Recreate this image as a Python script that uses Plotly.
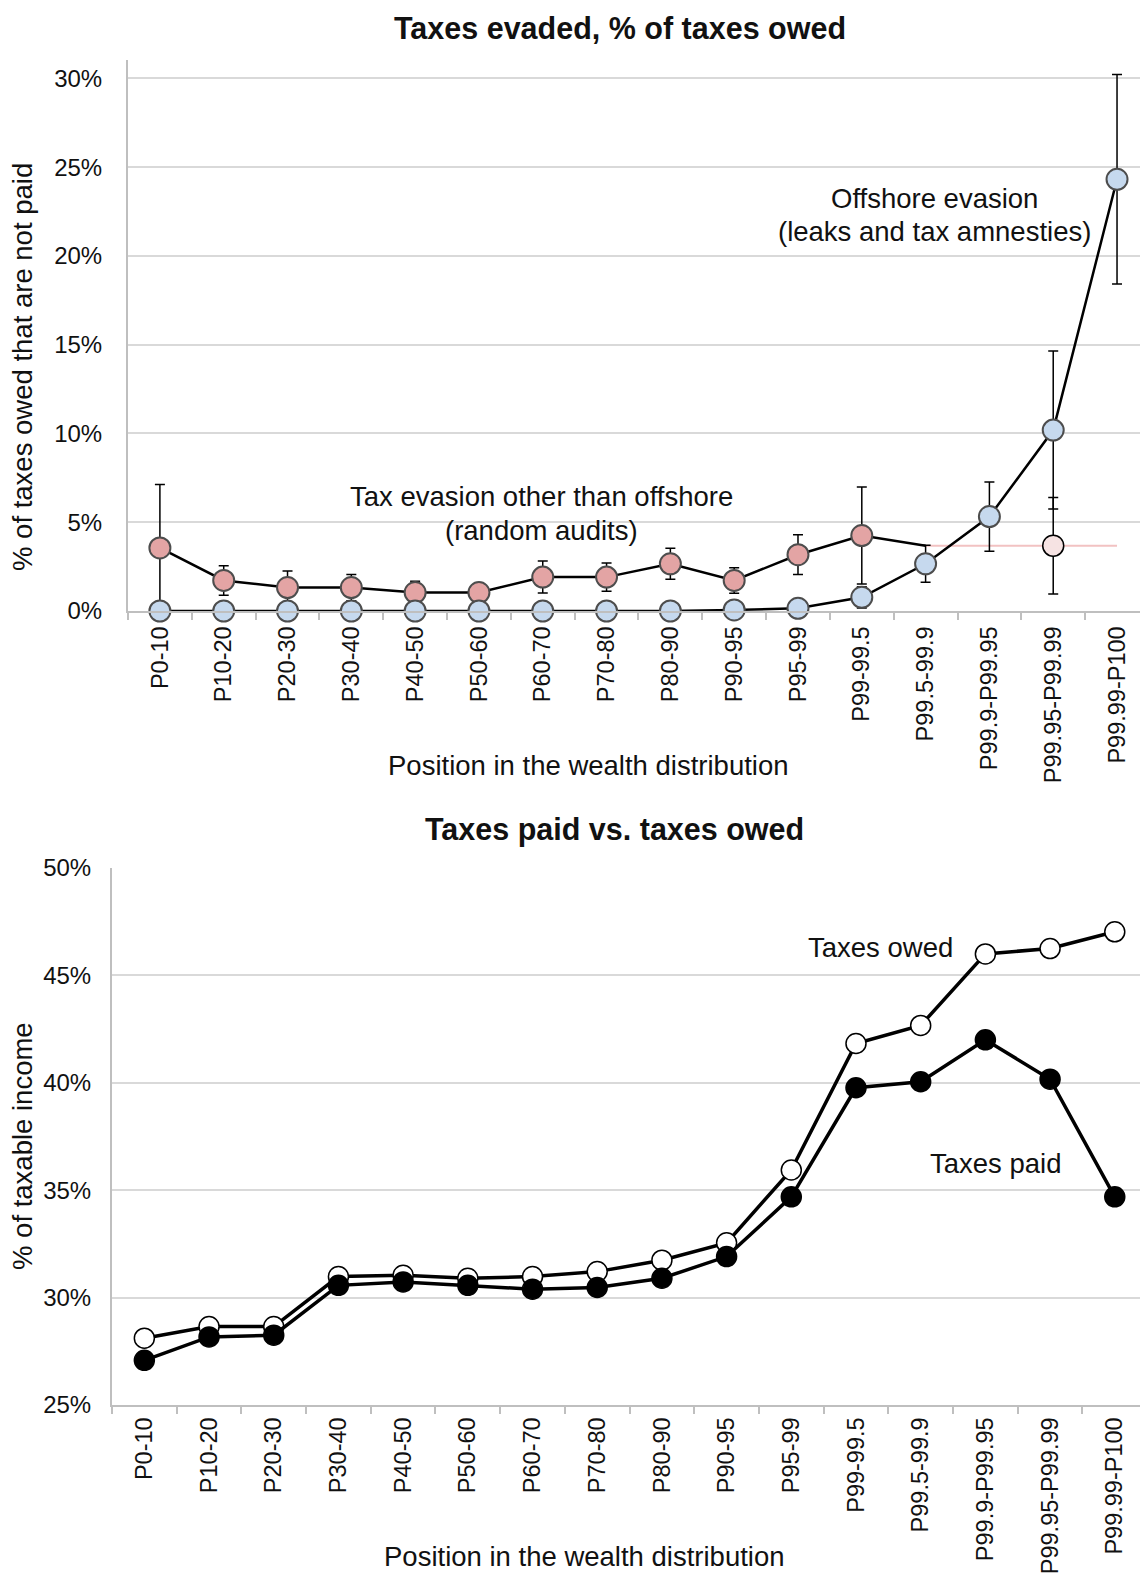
import plotly.graph_objects as go

# Wealth groups (shared by both panels)
groups = ["P0-10", "P10-20", "P20-30", "P30-40", "P40-50", "P50-60", "P60-70",
          "P70-80", "P80-90", "P90-95", "P95-99", "P99-99.5", "P99.5-99.9",
          "P99.9-P99.95", "P99.95-P99.99", "P99.99-P100"]

# Panel 1: taxes evaded, % of taxes owed
audit_groups = groups[:12]
audit_evasion = [3.55, 1.72, 1.32, 1.32, 1.04, 1.04, 1.91, 1.91, 2.66, 1.72, 3.17, 4.25]
audit_error = [3.58, 0.83, 0.94, 0.74, 0.64, 0.45, 0.90, 0.80, 0.87, 0.72, 1.12, 2.73]
audit_top_level = 3.68            # random-audit estimate carried to the top groups
audit_top_group = "P99.95-P99.99"
audit_top_error = 2.72

offshore_evasion = [0, 0, 0, 0, 0, 0, 0, 0, 0, 0.06, 0.15, 0.77, 2.66, 5.32, 10.19, 24.32]
offshore_error = [0, 0, 0, 0, 0, 0, 0, 0, 0, 0, 0, 0.6, 1.04, 1.95, 4.45, 5.9]

# Panel 2: taxes paid vs taxes owed, % of taxable income
taxes_owed = [28.11, 28.65, 28.65, 30.98, 31.04, 30.90, 30.98, 31.21, 31.74, 32.55,
              35.94, 41.83, 42.67, 46.00, 46.25, 47.03]
taxes_paid = [27.08, 28.17, 28.25, 30.57, 30.73, 30.57, 30.39, 30.47, 30.90, 31.91,
              34.69, 39.77, 40.05, 42.00, 40.17, 34.69]

top_ticks = [0, 5, 10, 15, 20, 25, 30]
bottom_ticks = [25, 30, 35, 40, 45, 50]

FONT = "Liberation Sans, Arial, sans-serif"
W, H = 1140, 1577

RED_FILL = "#e3a4a4"
BLUE_FILL = "#c6d9ee"
PALE_FILL = "#f6e3e3"
PINK_LINE = "#f2c2c2"
EDGE = "#4d4d4d"

fig = go.Figure()

# --- top panel -------------------------------------------------------------
fig.add_trace(go.Scatter(
    x=[groups[12], groups[15]], y=[audit_top_level, audit_top_level],
    mode="lines", line=dict(color=PINK_LINE, width=2),
    xaxis="x", yaxis="y", hoverinfo="skip", showlegend=False, cliponaxis=False))

fig.add_trace(go.Scatter(
    x=audit_groups + [groups[12]], y=audit_evasion + [audit_top_level],
    mode="lines", line=dict(color="black", width=2.5),
    xaxis="x", yaxis="y", showlegend=False, cliponaxis=False))

fig.add_trace(go.Scatter(
    x=audit_groups, y=audit_evasion, mode="markers",
    marker=dict(size=21, color=RED_FILL, line=dict(color=EDGE, width=2)),
    error_y=dict(type="data", array=audit_error, color="black", thickness=1.5, width=5),
    xaxis="x", yaxis="y", showlegend=False, cliponaxis=False))

fig.add_trace(go.Scatter(
    x=groups, y=offshore_evasion, mode="lines+markers",
    line=dict(color="black", width=2.5),
    marker=dict(size=21, color=BLUE_FILL, line=dict(color=EDGE, width=2)),
    error_y=dict(type="data", array=offshore_error, color="black", thickness=1.5, width=5),
    xaxis="x", yaxis="y", showlegend=False, cliponaxis=False))

fig.add_trace(go.Scatter(
    x=[audit_top_group], y=[audit_top_level], mode="markers",
    marker=dict(size=21, color=PALE_FILL, line=dict(color="black", width=1.5)),
    error_y=dict(type="data", array=[audit_top_error], color="black", thickness=1.5, width=5),
    xaxis="x", yaxis="y", showlegend=False, cliponaxis=False))

# --- bottom panel ----------------------------------------------------------
fig.add_trace(go.Scatter(
    x=groups, y=taxes_owed, mode="lines+markers",
    line=dict(color="black", width=3.5),
    marker=dict(size=20, color="white", line=dict(color="black", width=1.5)),
    xaxis="x2", yaxis="y2", showlegend=False, cliponaxis=False))

fig.add_trace(go.Scatter(
    x=groups, y=taxes_paid, mode="lines+markers",
    line=dict(color="black", width=3.5),
    marker=dict(size=20, color="black", line=dict(color="black", width=1.5)),
    xaxis="x2", yaxis="y2", showlegend=False, cliponaxis=False))


def py(px):
    """Convert a pixel row (from the top) to paper coordinates."""
    return 1 - px / H


def px_x(px):
    return px / W


x_common = dict(
    type="category", categoryorder="array", categoryarray=groups,
    tickangle=-90, ticks="outside", tickson="boundaries", ticklen=7,
    tickcolor="#bfbfbf", tickwidth=1.5, showline=True, linecolor="#bfbfbf",
    linewidth=2, showgrid=False, zeroline=False, automargin=False,
)
y_common = dict(
    showgrid=True, gridcolor="#d9d9d9", gridwidth=1.5, zeroline=False,
    showline=True, linecolor="#bfbfbf", linewidth=2, ticks="",
    automargin=False,
    tickfont=dict(family=FONT, size=24, color="#111111"),
)

fig.update_layout(
    width=W, height=H,
    margin=dict(l=0, r=0, t=0, b=0, pad=0, autoexpand=False),
    paper_bgcolor="white", plot_bgcolor="white", showlegend=False,
    font=dict(family=FONT, color="#111111"),
    xaxis=dict(domain=[px_x(128), 1], range=[-0.5, 15.36], anchor="y",
               ticklabelstandoff=4,
               tickfont=dict(family=FONT, size=23.5, color="#111111"), **x_common),
    yaxis=dict(domain=[py(611), py(60)], range=[0, 31.04], anchor="x",
               ticklabelstandoff=19,
               tickvals=top_ticks, ticktext=[f"{v}%" for v in top_ticks], **y_common),
    xaxis2=dict(domain=[px_x(112), 1], range=[-0.5, 15.39], anchor="y2",
                ticklabelstandoff=1,
                tickfont=dict(family=FONT, size=23.5, color="#111111"), **x_common),
    yaxis2=dict(domain=[py(1405), py(868)], range=[25, 50], anchor="x2",
                ticklabelstandoff=14,
                tickvals=bottom_ticks, ticktext=[f"{v}%" for v in bottom_ticks], **y_common),
)

texts = [
    # titles
    dict(text="<b>Taxes evaded, % of taxes owed</b>", x=620, y=28, size=30.5),
    dict(text="<b>Taxes paid vs. taxes owed</b>", x=614, y=829, size=30.5),
    # axis titles
    dict(text="Position in the wealth distribution", x=588, y=765, size=27.5),
    dict(text="Position in the wealth distribution", x=584, y=1556, size=27.5),
    dict(text="% of taxes owed that are not paid", x=22, y=367, size=27.5, angle=-90),
    dict(text="% of taxable income", x=22, y=1146, size=27.5, angle=-90),
    # series labels
    dict(text="Tax evasion other than offshore", x=541, y=497, size=27.5),
    dict(text="(random audits)", x=541, y=530, size=27.5),
    dict(text="Offshore evasion", x=934, y=198, size=27.5),
    dict(text="(leaks and tax amnesties)", x=934, y=231, size=27.5),
    dict(text="Taxes owed", x=880, y=947, size=27.5),
    dict(text="Taxes paid", x=995, y=1163, size=27.5),
]
for t in texts:
    fig.add_annotation(
        text=t["text"], xref="paper", yref="paper",
        x=px_x(t["x"]), y=py(t["y"]), xanchor="center", yanchor="middle",
        showarrow=False, textangle=t.get("angle", 0),
        font=dict(family=FONT, size=t["size"], color="#111111"),
    )

fig.write_html("out.html")
